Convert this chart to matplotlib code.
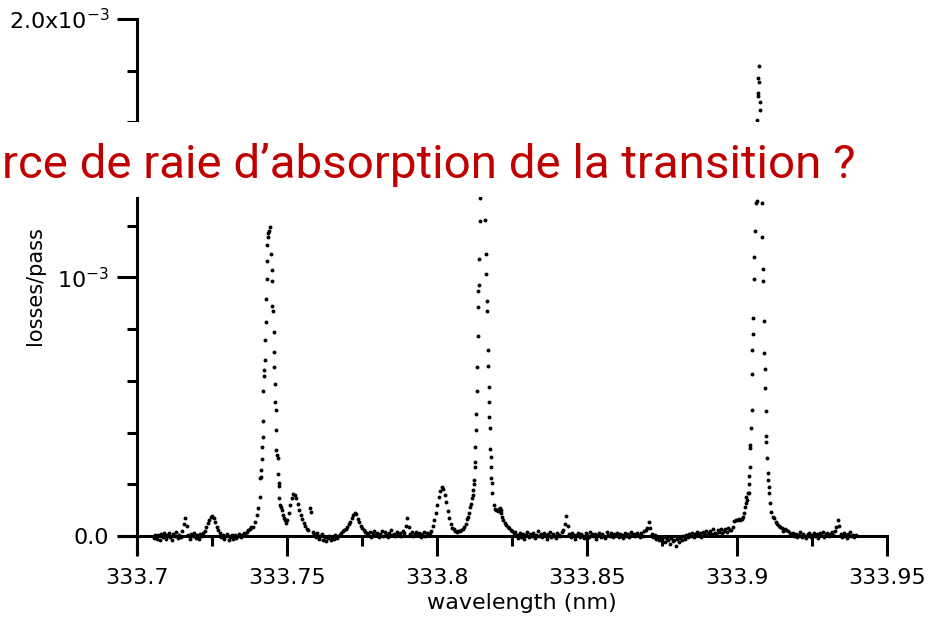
import numpy as np
import matplotlib
matplotlib.use("Agg")
import matplotlib.pyplot as plt
from matplotlib.patches import Rectangle
from matplotlib.ticker import MultipleLocator

# Baseline segments: start wavelength (nm), fixed step, losses in units of 1e-6
WL_STEP = 0.0005

seg_a_start = 333.7055
seg_a_ppm = [-8, 5, -12, 3, -15, 8, -4, 10, -10, 2, 12, -6, -14, 6, 0, 14, -9, 4, -3, 18,
             45, 70, 38,
             5, -11, 9, -2, 13, -7, 3, -13, 7, 0,
             10, 20, 35, 50, 62, 72, 77, 68, 52, 36, 22, 10,
             -6, 3, -12, -2, 6, -15, -4, 2, -10, 5, -8, -1, 8, -5, 4, 10, 6,
             15, 22, 28, 33]

seg_b_start = 333.7495
seg_b_ppm = [50, 62, 90, 120, 148, 163, 160, 145, 122, 100, 82, 65, 50, 38, 28, 22,
             108, 92, 15,
             8, -3, 12, -10, 0, 6, -14, -5, -18, -9, -2, -16, -7, -12, 3, -8, -1, 5, 12,
             18, 22, 28, 36, 45, 55, 68, 81, 90, 84, 66, 52, 40, 30, 22, 16, 10,
             4, 15, -3, 10, 20, 2, 12, -6, 8, 18, 0, 14, 6, -4, 11, 22, 3, 9, -2, 16, 7, 13, 1, 19, 10,
             40, 70, 35,
             6, 14, -2, 9, 17, 3, 12, -5, 8, 15, 1, 10, 4, 13, 20,
             40, 62, 90, 118, 150, 175, 190, 183, 158, 130, 95, 68, 45, 32, 25, 20, 16, 18, 20, 24,
             28, 33, 45, 65]

seg_c_start = 333.8240
seg_c_ppm = [30, 24, 18, 10, 16,
             4, -8, 12, -3, 7, -12, 2, 15, -5, 9, -1, 13, -9, 5, 18, 0, 8, -6, 11, 3, -10, 6, 14,
             -4, 9, 1, -7, 12, 4, -2, 16, 22,
             45, 77, 38,
             8, -6, 10, 2, -12, 5, 13, -3, 7, 0, -9, 11, 4, -5, 14, 6, -2, 9, -11, 3, 12, -4, 8,
             1, -8, 15, 5, -1, 10, -6, 7, 2, 13, -3, 9, 4, -7, 11, 0, 6, -5, 14, 3, 8, -2, 12, 5,
             -4, 10, 1, 18, 24,
             32, 55, 30,
             6, -4, 2, -10, -3, -14, -8, -18, -6, -22, -12, -16, -30, -9, -20, -14, -38, -11, -24,
             -7, -17, -2, -12,
             3, -6, 8, 0, 12, -3, 6, 14, 2, 10, -4, 16, 7, 20, 4, 11, 18, 9, 25, 13, 6, 22, 15,
             28, 10, 19, 26, 14, 30, 21, 24, 33]

seg_d_start = 333.9170
seg_d_ppm = [18, 10, 4, 12, -2, 8, -6, 5, 14, -3, 9, 0, -9, 6, 11, -5, 3, 13, -1, 7, -8, 10,
             2, 15, -4, 6, 12, 0, 8, 16, 4, 20,
             35, 62, 38,
             7, -4, 12, 2, -7, 9, 14, -2, 5, -6, 3]

# Strong lines, points read individually (nm, 1e-6)
peak1_wl = [333.73860, 333.73917, 333.73973, 333.74027, 333.74073, 333.74093, 333.74107,
            333.74127, 333.74140, 333.74150, 333.74173, 333.74183, 333.74193, 333.74207,
            333.74227, 333.74240, 333.74260, 333.74273, 333.74293, 333.74307, 333.74317,
            333.74337, 333.74343, 333.74360, 333.74393, 333.74417,
            333.74450, 333.74473, 333.74483, 333.74493, 333.74517, 333.74540, 333.74550,
            333.74560, 333.74583, 333.74593, 333.74607, 333.74617, 333.74627, 333.74660,
            333.74673, 333.74693, 333.74707, 333.74727, 333.74733, 333.74750, 333.74773,
            333.74807, 333.74840, 333.74873, 333.74917]
peak1_ppm = [36, 55, 81, 107, 152, 223, 227, 255, 296, 344, 382, 443, 560, 618, 641, 682,
             758, 829, 916, 993, 1062, 1124, 1156, 1172, 1181, 1194,
             1091, 1030, 985, 888, 871, 790, 712, 655, 588, 520, 486, 409, 332, 313, 300,
             238, 203, 193, 146, 120, 110, 100, 82, 70, 60]

peak2_wl = [333.81027, 333.81060, 333.81090, 333.81123, 333.81150, 333.81177, 333.81200,
            333.81217, 333.81230, 333.81243, 333.81253, 333.81270, 333.81283, 333.81303,
            333.81317, 333.81337, 333.81350, 333.81360, 333.81373, 333.81383, 333.81403,
            333.81417, 333.81423, 333.81450, 333.81500, 333.81560,
            333.81607, 333.81627, 333.81640, 333.81650, 333.81660, 333.81683, 333.81707,
            333.81717, 333.81727, 333.81740, 333.81750, 333.81773, 333.81783, 333.81793,
            333.81807, 333.81817, 333.81840, 333.81883, 333.81927, 333.81973, 333.82017,
            333.82050, 333.82083, 333.82117, 333.82140, 333.82167, 333.82193, 333.82250,
            333.82307, 333.82360]
peak2_ppm = [72, 90, 110, 125, 145, 160, 178, 200, 218, 265, 287, 345, 409, 470, 561, 654,
             772, 885, 947, 969, 1070, 1217, 1308, 1400, 1470, 1400,
             1223, 1089, 1013, 909, 869, 721, 659, 575, 519, 461, 416, 337, 304, 265, 223,
             203, 165, 120, 105, 100, 96, 103, 107, 100, 88, 75, 62, 50, 42, 36]

peak3_wl = [333.89900, 333.89950, 333.90000, 333.90050, 333.90100, 333.90150, 333.90190,
            333.90227, 333.90250, 333.90283, 333.90307, 333.90340, 333.90360, 333.90383,
            333.90393, 333.90407, 333.90417, 333.90440, 333.90447, 333.90460, 333.90483,
            333.90493, 333.90507, 333.90527, 333.90540, 333.90550, 333.90573, 333.90583,
            333.90617, 333.90637, 333.90650, 333.90653, 333.90660, 333.90683, 333.90693,
            333.90707, 333.90717, 333.90717,
            333.90750, 333.90773, 333.90800, 333.90823, 333.90840, 333.90847, 333.90860,
            333.90873, 333.90893, 333.90907, 333.90917, 333.90940, 333.90950, 333.90960,
            333.90973, 333.90993, 333.91017, 333.91027, 333.91050, 333.91060, 333.91107,
            333.91140, 333.91193, 333.91227, 333.91283, 333.91333, 333.91383, 333.91417,
            333.91483, 333.91533, 333.91583, 333.91640]
peak3_ppm = [58, 62, 60, 64, 61, 66, 72, 88, 113, 126, 152, 139, 165, 167, 200, 232, 265,
             339, 351, 417, 486, 625, 721, 783, 843, 995, 1081, 1178, 1287, 1380, 1520, 1297,
             1609, 1703, 1773, 1712, 1757, 1819,
             1677, 1647, 1520, 1400, 1287, 1158, 1034, 988, 830, 708, 644, 574, 484, 386,
             364, 300, 244, 216, 190, 165, 126, 94, 75, 70, 55, 45, 38, 36, 30, 20, 26, 22]

x_ticks = [333.70, 333.75, 333.80, 333.85, 333.90, 333.95]
x_tick_labels = ["333.7", "333.75", "333.8", "333.85", "333.9", "333.95"]
y_ticks = [0.0, 1e-3, 2e-3]
y_tick_labels = ["0.0", r"10$^{-3}$", r"2.0x10$^{-3}$"]

overlay_text = "rce de raie d\u2019absorption de la transition ?"


def segment(start, ppm):
    wl = start + WL_STEP * np.arange(len(ppm))
    return wl, np.array(ppm) * 1e-6


fig = plt.figure(figsize=(9.43, 6.2), dpi=100)
ax = fig.add_axes([0.1267, 0.1081, 0.8139, 0.8613])

dot = dict(linestyle="none", marker="o", ms=2.8, mew=0, color="black")
for start, ppm in [(seg_a_start, seg_a_ppm), (seg_b_start, seg_b_ppm),
                   (seg_c_start, seg_c_ppm), (seg_d_start, seg_d_ppm)]:
    wl, y = segment(start, ppm)
    ax.plot(wl, y, **dot)

for wl, ppm in [(peak1_wl, peak1_ppm), (peak2_wl, peak2_ppm), (peak3_wl, peak3_ppm)]:
    ax.plot(wl, np.array(ppm) * 1e-6, **dot)

ax.set_xlim(333.694, 333.95)
ax.set_ylim(-0.066e-3, 2.0e-3)

ax.spines["left"].set_position(("data", 333.7))
ax.spines["bottom"].set_position(("data", 0.0))
ax.spines["top"].set_visible(False)
ax.spines["right"].set_visible(False)
for s in ["left", "bottom"]:
    ax.spines[s].set_linewidth(2.2)

ax.set_xticks(x_ticks)
ax.set_xticklabels(x_tick_labels)
ax.xaxis.set_minor_locator(MultipleLocator(0.025))
ax.set_yticks(y_ticks)
ax.set_yticklabels(y_tick_labels)
ax.yaxis.set_minor_locator(MultipleLocator(0.2e-3))
ax.tick_params(which="major", length=14.4, width=2.2, direction="out", labelsize=16, pad=9)
ax.tick_params(which="minor", length=7.2, width=2.2, direction="out")
ax.tick_params(axis="y", which="major", pad=6)

ax.set_xlabel("wavelength (nm)", fontsize=16)
ax.xaxis.set_label_coords(0.524, -0.075)
ax.set_ylabel("losses/pass", fontsize=15)
ax.yaxis.set_label_coords(-0.097, 0.5)

# white band with the red question across the top of the plot
fig.add_artist(Rectangle((0, 1 - 197 / 620), 875 / 943, 75 / 620, transform=fig.transFigure,
                         facecolor="white", edgecolor="none", zorder=5))
fig.text(855 / 943, 1 - 178 / 620, overlay_text, ha="right", va="baseline",
         color="#C00000", fontsize=34.2, family=["Roboto", "DejaVu Sans"], zorder=6)

fig.savefig("out.png", dpi=100)
